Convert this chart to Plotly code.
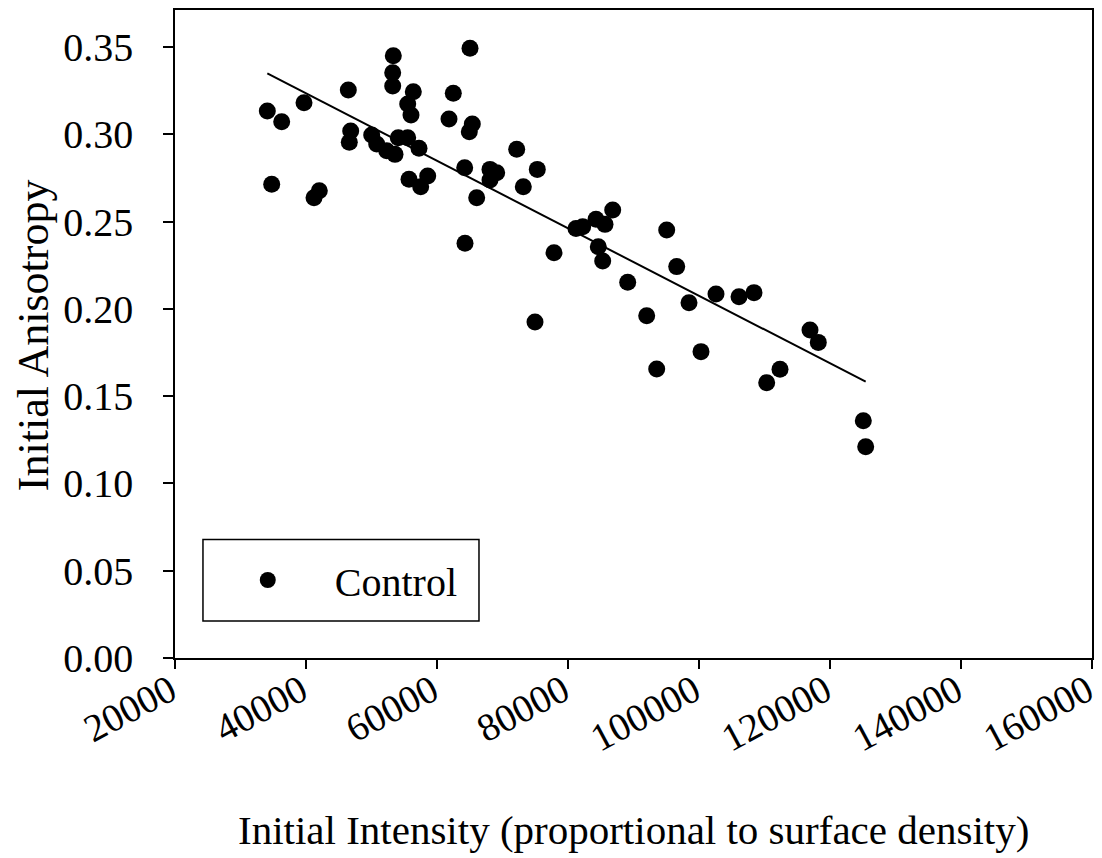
import plotly.graph_objects as go

# Data
intensity = [34092, 36290, 39695, 46458, 53328, 53237, 53237, 56382, 55527, 56031,
             65038, 62489, 61832, 65389, 64931, 46824, 46611, 50031, 50794, 52321,
             53588, 54092, 55527, 57252, 34763, 42031, 41221, 55725, 58580, 57511,
             64229, 68092, 69115, 68092, 66061, 72168, 75313, 73176, 64275, 77863,
             81221, 82244, 84275, 85649, 86824, 84626, 85298, 89115, 95069, 96595,
             102595, 106107, 108397, 98473, 92015, 100305, 93542, 112366, 110336, 116947,
             118214, 125084, 125450, 74962]
anisotropy = [0.3133, 0.3072, 0.3181, 0.3254, 0.3450, 0.3353, 0.3277, 0.3244, 0.3174, 0.3111,
              0.3493, 0.3235, 0.3088, 0.3059, 0.3015, 0.3019, 0.2954, 0.2996, 0.2944, 0.2906,
              0.2885, 0.2980, 0.2980, 0.2920, 0.2714, 0.2677, 0.2637, 0.2742, 0.2761, 0.2700,
              0.2809, 0.2799, 0.2780, 0.2738, 0.2637, 0.2914, 0.2799, 0.2700, 0.2376, 0.2322,
              0.2461, 0.2471, 0.2513, 0.2484, 0.2566, 0.2356, 0.2274, 0.2152, 0.2452, 0.2242,
              0.2085, 0.2070, 0.2093, 0.2035, 0.1961, 0.1755, 0.1655, 0.1654, 0.1577, 0.1879,
              0.1808, 0.1359, 0.1210, 0.1925]

fit_x = [34092, 125450]
fit_y = [0.3349, 0.1583]

x_ticks = [20000, 40000, 60000, 80000, 100000, 120000, 140000, 160000]
y_ticks = [0.00, 0.05, 0.10, 0.15, 0.20, 0.25, 0.30, 0.35]

FONT = "Liberation Serif"
FS = 40

fig = go.Figure()
fig.add_trace(go.Scatter(
    x=fit_x, y=fit_y, mode="lines",
    line=dict(color="black", width=2),
    showlegend=False, hoverinfo="skip"))
fig.add_trace(go.Scatter(
    x=intensity, y=anisotropy, mode="markers", name="Control",
    marker=dict(color="black", size=17, line=dict(width=0))))

# legend frame
fig.add_shape(type="rect", xref="paper", yref="paper",
              x0=0.0305, x1=0.3315, y0=0.0570, y1=0.1830,
              line=dict(color="black", width=1.5), fillcolor="white", layer="below")

fig.add_annotation(text="Initial Intensity (proportional to surface density)",
                   xref="paper", yref="paper", x=0.5, y=-0.2654,
                   xanchor="center", yanchor="middle", showarrow=False,
                   font=dict(family=FONT, size=41, color="black"))
fig.add_annotation(text="Initial Anisotropy", textangle=-90,
                   xref="paper", yref="paper", x=-0.1550, y=0.4980,
                   xanchor="center", yanchor="middle", showarrow=False,
                   font=dict(family=FONT, size=44, color="black"))

fig.update_layout(
    width=1102, height=858,
    margin=dict(l=175, r=10, t=10, b=200),
    paper_bgcolor="white", plot_bgcolor="white",
    font=dict(family=FONT, size=FS, color="black"),
    legend=dict(
        x=0.0281, y=0.1204, xanchor="left", yanchor="middle",
        borderwidth=0, bgcolor="rgba(0,0,0,0)",
        font=dict(family=FONT, size=FS, color="black"),
        itemsizing="trace", itemwidth=124),
    xaxis=dict(
        range=[20000, 160000], tickvals=x_ticks,
        ticktext=[str(v) for v in x_ticks], tickangle=-28,
        ticks="outside", ticklen=9, tickwidth=1.5, tickcolor="black",
        ticklabelstandoff=-16, ticklabelshift=-5, ticklabeloverflow="allow",
        showline=True, linecolor="black", linewidth=1.5, mirror=True,
        showgrid=False, zeroline=False, automargin=False,
        tickfont=dict(family=FONT, size=39, color="black")),
    yaxis=dict(
        range=[0, 0.3712], tickvals=y_ticks,
        ticktext=[f"{v:.2f}" for v in y_ticks],
        ticks="outside", ticklen=10, tickwidth=1.5, tickcolor="black",
        ticklabelstandoff=22,
        showline=True, linecolor="black", linewidth=1.5, mirror=True,
        showgrid=False, zeroline=False, automargin=False,
        tickfont=dict(family=FONT, size=FS, color="black")),
)

fig.write_html("out.html")
